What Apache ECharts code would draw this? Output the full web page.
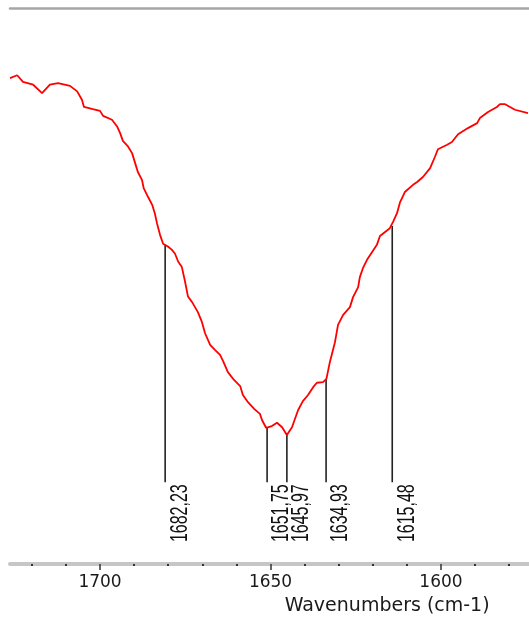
<html>
<head>
    <meta charset="utf-8">
    <title>IR spectrum</title>
    <script src="https://cdn.jsdelivr.net/npm/echarts@6/dist/echarts.min.js"></script>
    <style>
        html, body { margin: 0; padding: 0; background: #fff; }
        #main { width: 529px; height: 621px; }
    </style>
</head>
<body>
<div id="main"></div>
<script>
    // spectrum
    var wavenumbers = [
        1726.4, 1724.3, 1722.6, 1719.6, 1717.0, 1714.7, 1712.3, 1708.8, 1706.7, 1705.3,
        1704.7, 1702.1, 1700.0, 1699.1, 1696.5, 1695.0, 1694.1, 1693.3, 1691.8, 1690.6,
        1689.7, 1688.9, 1687.7, 1687.2, 1685.9, 1684.7, 1683.9, 1683.3, 1682.4, 1681.5,
        1680.1, 1678.9, 1678.0, 1677.1, 1676.0, 1675.1, 1674.2, 1673.0, 1671.3, 1670.1,
        1669.2, 1667.7, 1666.3, 1664.8, 1663.9, 1662.5, 1660.7, 1658.9, 1658.1, 1656.6,
        1654.8, 1653.1, 1652.5, 1651.3, 1649.6, 1648.1, 1646.6, 1645.2, 1643.7, 1641.9,
        1640.5, 1639.0, 1637.5, 1636.4, 1634.6, 1633.6, 1632.6, 1631.1, 1630.2, 1628.7,
        1626.7, 1625.8, 1624.3, 1623.8, 1622.9, 1621.7, 1620.2, 1618.8, 1617.9, 1615.0,
        1614.1, 1612.9, 1612.0, 1610.6, 1608.2, 1607.0, 1605.3, 1603.2, 1601.8, 1600.9,
        1598.2, 1596.8, 1595.0, 1592.1, 1589.4, 1588.6, 1586.2, 1583.6, 1582.7, 1581.2,
        1578.3, 1574.5
    ];
    var transmittance = [
        87.4, 87.9, 86.7, 86.2, 84.7, 86.2, 86.5, 86.0, 85.0, 83.5,
        82.2, 81.8, 81.5, 80.6, 79.9, 78.7, 77.5, 76.1, 75.1, 73.9,
        72.1, 70.5, 69.1, 67.6, 66.0, 64.6, 63.0, 61.3, 59.2, 57.6,
        57.1, 56.5, 55.8, 54.4, 53.4, 50.9, 48.1, 47.1, 45.3, 43.5,
        41.5, 39.4, 38.5, 37.6, 36.5, 34.5, 33.1, 32.0, 30.4, 29.1,
        27.9, 27.0, 25.9, 24.5, 24.8, 25.4, 24.6, 23.2, 24.6, 27.7,
        29.3, 30.4, 31.8, 32.6, 32.7, 33.3, 36.3, 39.9, 43.0, 44.8,
        46.2, 48.0, 49.8, 51.6, 53.2, 54.7, 56.1, 57.4, 59.0, 60.4,
        61.5, 63.1, 65.1, 66.9, 68.2, 68.7, 69.6, 71.2, 73.2, 74.6,
        75.4, 75.9, 77.3, 78.4, 79.3, 80.2, 81.3, 82.2, 82.7, 82.7,
        81.7, 81.1
    ];

    // peak markers
    var peakPositions = [1680.9, 1651.0, 1645.2, 1633.7, 1614.3];
    var peakTops = [57.4, 24.6, 23.2, 33.2, 60.8];
    var peakBottom = 14.7;
    var peakLabels = ['1682,23', '1651,75', '1645,97', '1634,93', '1615,48'];

    // axis ticks
    var majorTicks = [1700, 1650, 1600];
    var minorTicks = [1580, 1590, 1610, 1620, 1630, 1640, 1660, 1670, 1680, 1690, 1710, 1720];

    var xMin = 1570, xMax = 1726.4;

    var spectrum = [];
    for (var i = 0; i < wavenumbers.length; i++) {
        spectrum.push([wavenumbers[i], transmittance[i]]);
    }
    var peaks = [];
    for (var j = 0; j < peakPositions.length; j++) {
        peaks.push([peakPositions[j], peakTops[j], peakBottom]);
    }

    var myChart = echarts.init(document.getElementById('main'));

    var option = {
        backgroundColor: '#fff',
        animation: false,
        grid: {left: 10, right: -14.3, top: 8, bottom: 57, outerBoundsMode: 'none'},
        xAxis: [{
            type: 'value', position: 'bottom', inverse: true,
            min: xMin, max: xMax, interval: 10,
            splitLine: {show: false},
            axisLine: {show: true, lineStyle: {color: '#c6c6c6', width: 4}},
            axisTick: {show: true, customValues: majorTicks, length: 6, lineStyle: {color: '#333', width: 1.5}},
            axisLabel: {
                customValues: majorTicks, margin: 10,
                formatter: function (v) { return String(v); },
                fontFamily: 'DejaVu Sans', fontSize: 17, color: '#1a1a1a'
            },
            name: 'Wavenumbers (cm-1)', nameLocation: 'middle', nameGap: 33,
            nameTextStyle: {
                fontFamily: 'DejaVu Sans', fontSize: 19, color: '#1a1a1a',
                align: 'left', padding: [0, 0, 0, 8]
            }
        }, {
            type: 'value', position: 'bottom', inverse: true,
            min: xMin, max: xMax, interval: 10,
            splitLine: {show: false},
            axisLine: {show: false},
            axisTick: {show: true, customValues: minorTicks, length: 2, lineStyle: {color: '#333', width: 2}},
            axisLabel: {show: false}
        }, {
            type: 'value', position: 'top', inverse: true,
            min: xMin, max: xMax,
            splitLine: {show: false},
            axisLine: {show: true, lineStyle: {color: '#a6a6a6', width: 2.5}},
            axisTick: {show: false},
            axisLabel: {show: false}
        }],
        yAxis: {
            type: 'value', min: 0, max: 100, show: false
        },
        series: [{
            name: 'spectrum', type: 'line',
            xAxisIndex: 0, yAxisIndex: 0,
            data: spectrum,
            symbol: 'none', showSymbol: false,
            lineStyle: {color: '#ff0000', width: 1.8}
        }, {
            name: 'peaks', type: 'custom',
            xAxisIndex: 0, yAxisIndex: 0,
            data: peaks,
            encode: {x: 0, y: 1},
            renderItem: function (params, api) {
                var w = api.value(0);
                var p1 = api.coord([w, api.value(1)]);
                var p2 = api.coord([w, api.value(2)]);
                return {
                    type: 'group',
                    children: [{
                        type: 'line',
                        shape: {x1: p1[0], y1: p1[1], x2: p2[0], y2: p2[1]},
                        style: {stroke: '#222', lineWidth: 1.6}
                    }, {
                        type: 'text',
                        x: p2[0] + 15, y: p2[1] + 2,
                        rotation: Math.PI / 2,
                        scaleY: 1.45,
                        style: {
                            text: peakLabels[params.dataIndex],
                            font: '16px "Liberation Sans"',
                            fill: '#111',
                            align: 'right', verticalAlign: 'middle'
                        }
                    }]
                };
            }
        }]
    };

    myChart.setOption(option);
</script>
</body>
</html>
